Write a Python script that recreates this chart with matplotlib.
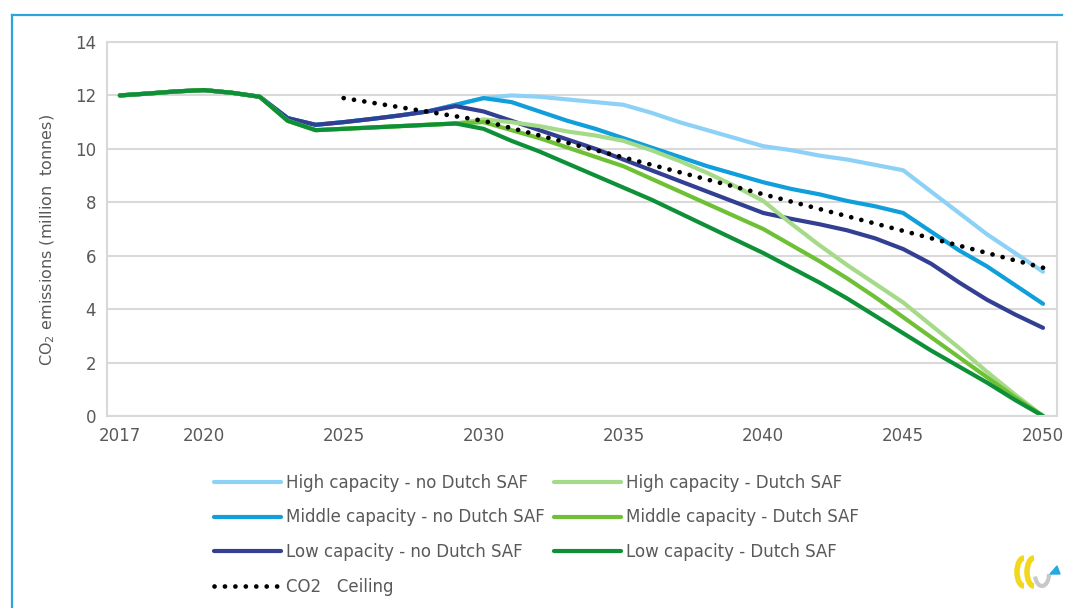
import numpy as np
import matplotlib.pyplot as plt
from matplotlib.lines import Line2D
from matplotlib.patches import Arc, Polygon

plt.rcParams['font.family'] = ['DejaVu Sans']

years = np.arange(2017, 2051)

# gedeeld begin 2017-2022
start = [12.0, 12.07, 12.15, 12.2, 12.1, 11.95]
start_blue = start + [11.15, 10.9, 11.0, 11.12, 11.25, 11.4]
start_green = start + [11.05, 10.7, 10.75, 10.8, 10.85, 10.9, 10.95]

high_no = start_blue + [11.65, 11.9, 12.0, 11.95, 11.85, 11.75, 11.65, 11.35, 11.0, 10.7, 10.4,
                        10.1, 9.95, 9.75, 9.6, 9.4, 9.2, 8.4, 7.6, 6.8, 6.1, 5.4]
middle_no = start_blue + [11.65, 11.9, 11.75, 11.4, 11.05, 10.75, 10.4, 10.05, 9.7, 9.35, 9.05,
                          8.75, 8.5, 8.3, 8.05, 7.85, 7.6, 6.9, 6.2, 5.6, 4.9, 4.2]
low_no = start_blue + [11.6, 11.4, 11.05, 10.7, 10.35, 10.0, 9.6, 9.2, 8.8, 8.4, 8.0,
                       7.6, 7.38, 7.18, 6.95, 6.65, 6.25, 5.7, 5.0, 4.35, 3.8, 3.3]
high_saf = start_green + [11.1, 11.0, 10.85, 10.65, 10.5, 10.3, 9.95, 9.55, 9.1, 8.6,
                          8.05, 7.2, 6.4, 5.65, 4.95, 4.25, 3.4, 2.55, 1.65, 0.8, 0.0]
middle_saf = start_green + [11.0, 10.7, 10.4, 10.05, 9.7, 9.35, 8.88, 8.41, 7.94, 7.47,
                            7.0, 6.4, 5.8, 5.15, 4.45, 3.7, 2.95, 2.2, 1.45, 0.7, 0.0]
low_saf = start_green + [10.75, 10.3, 9.9, 9.45, 9.0, 8.55, 8.1, 7.6, 7.1, 6.6,
                         6.1, 5.55, 5.0, 4.4, 3.75, 3.1, 2.45, 1.85, 1.25, 0.6, 0.0]

ceiling_years = [2025, 2030, 2035, 2040, 2045, 2050]
ceiling = [11.9, 11.05, 9.68, 8.3, 6.93, 5.55]

series = [
    ('High capacity - no Dutch SAF', high_no, '#8DD1F7'),
    ('Middle capacity - no Dutch SAF', middle_no, '#109FDA'),
    ('Low capacity - no Dutch SAF', low_no, '#323F92'),
    ('High capacity - Dutch SAF', high_saf, '#A5DA88'),
    ('Middle capacity - Dutch SAF', middle_saf, '#6EC035'),
    ('Low capacity - Dutch SAF', low_saf, '#0E9038'),
]

xticks = [2017, 2020, 2025, 2030, 2035, 2040, 2045, 2050]
text_col = '#595959'
grid_col = '#D9D9D9'

fig = plt.figure(figsize=(10.72, 6.08), dpi=100)
ax = fig.add_axes([107/1072, 1 - 416/608, 950/1072, 374/608])

handles = {}
for label, vals, col in series:
    h, = ax.plot(years, vals, color=col, lw=3, solid_capstyle='round', label=label)
    handles[label] = h
ceil_h, = ax.plot(ceiling_years, ceiling, color='black', lw=3.4,
                  linestyle=(0, (0.01, 2.2)), dash_capstyle='round', label='CO2   Ceiling')

ax.set_xlim(2016.54, 2050.5)
ax.set_ylim(0, 14)
ax.set_xticks(xticks)
ax.set_yticks(range(0, 15, 2))
ax.tick_params(length=0, labelsize=12, labelcolor=text_col, pad=8)
ax.grid(axis='y', color=grid_col, lw=1.5)
ax.set_axisbelow(True)
for s in ax.spines.values():
    s.set_color(grid_col)
    s.set_linewidth(1.5)

ax.set_ylabel('CO$_2$ emissions (million  tonnes)', fontsize=11.5, color=text_col)
ax.yaxis.set_label_coords(-0.053, 0.47)

order = [series[0][0], series[1][0], series[2][0]]
hl = [handles[o] for o in order] + [ceil_h] + [handles[s[0]] for s in series[3:]]
fig.legend(handles=hl, loc='upper left', bbox_to_anchor=(214/1072, 1 - 474/608),
           ncol=2, frameon=False, fontsize=12, labelcolor=text_col,
           handlelength=4.0, handletextpad=0.3, columnspacing=0.6,
           labelspacing=0.99, borderpad=0, borderaxespad=0)

# blauwe kader
fig.add_artist(Line2D([12/1072, 12/1072], [0, 1 - 15/608], color='#2AA5DE', lw=1.6))
fig.add_artist(Line2D([12/1072, 1062/1072], [1 - 15/608, 1 - 15/608], color='#2AA5DE', lw=1.6))

# logo rechtsonder
lx = fig.add_axes([1008/1072, 1 - 592/608, 56/1072, 40/608])
lx.set_xlim(0, 56)
lx.set_ylim(0, 40)
lx.axis('off')
lx.add_patch(Arc((16, 20), 14, 28, theta1=90, theta2=270, color='#F2D81C', lw=4))
lx.add_patch(Arc((26, 20), 14, 28, theta1=90, theta2=270, color='#F2D81C', lw=4))
lx.add_patch(Arc((34, 18), 14, 24, theta1=200, theta2=360, color='#C8C8C8', lw=3))
lx.add_patch(Polygon([[42, 18], [52, 18], [49, 26]], color='#29A8E0'))

fig.savefig('out.png', dpi=100)
